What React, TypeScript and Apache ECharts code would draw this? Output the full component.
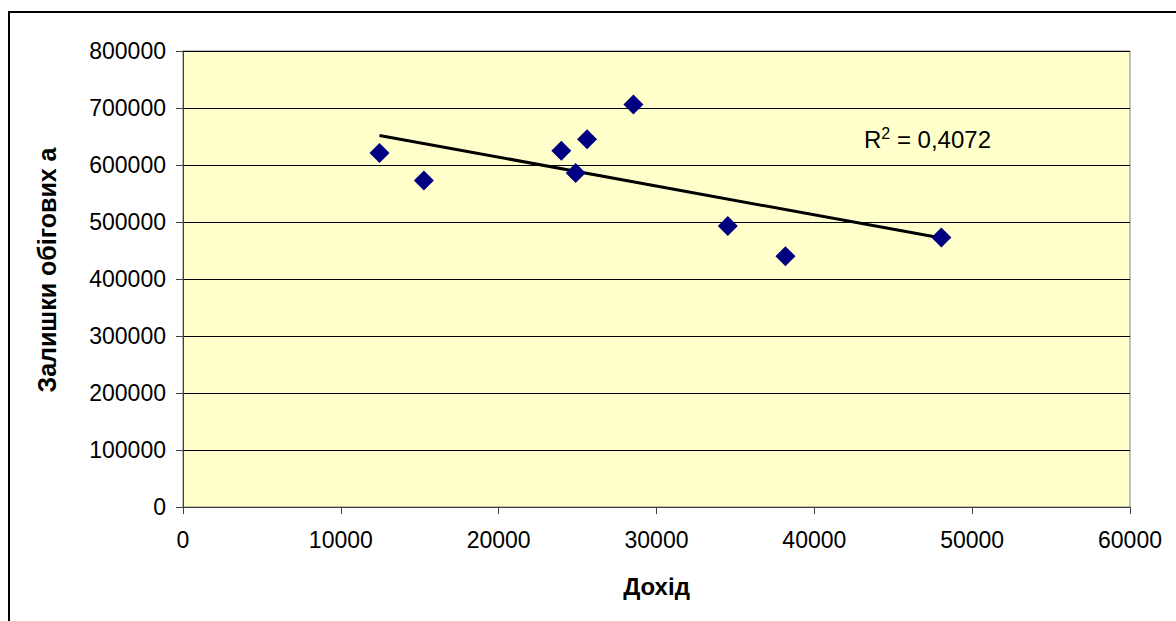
import React, { useEffect, useRef } from "react";
import * as echarts from "echarts";

const incomeValues = [12450, 15260, 23970, 24880, 25600, 28540, 34520, 38170, 48050];
const balanceValues = [621000, 573000, 625000, 586000, 645000, 706000, 493000, 440000, 473000];
const xAxisTitle = "Дохід";
const yAxisTitle = "Залишки обігових а";
const rSquaredText = "0,4072";

function linearFit(xs: number[], ys: number[]) {
  const n = xs.length;
  const mx = xs.reduce((a, b) => a + b, 0) / n;
  const my = ys.reduce((a, b) => a + b, 0) / n;
  let sxy = 0;
  let sxx = 0;
  for (let i = 0; i < n; i++) {
    sxy += (xs[i] - mx) * (ys[i] - my);
    sxx += (xs[i] - mx) * (xs[i] - mx);
  }
  const slope = sxy / sxx;
  const intercept = my - slope * mx;
  return (x: number) => intercept + slope * x;
}

export default function App() {
  const ref = useRef<HTMLDivElement>(null);
  useEffect(() => {
    if (!ref.current) return;
    const chart = echarts.init(ref.current, undefined, { renderer: "svg" });
    const fit = linearFit(incomeValues, balanceValues);
    const xMin = Math.min(...incomeValues);
    const xMax = Math.max(...incomeValues);
    const font = "'Liberation Sans', Arial, sans-serif";
    chart.setOption({
      animation: false,
      backgroundColor: "#ffffff",
      grid: {
        left: 183,
        top: 51,
        width: 947,
        height: 456,
        show: true,
        backgroundColor: "#FFFFCC",
        borderColor: "#808080",
        borderWidth: 1,
      },
      xAxis: {
        type: "value",
        min: 0,
        max: 60000,
        interval: 10000,
        name: xAxisTitle,
        nameLocation: "middle",
        nameGap: 67,
        nameTextStyle: { fontFamily: font, fontSize: 24, fontWeight: "bold", color: "#000" },
        axisLine: { show: true, lineStyle: { color: "#404040", width: 1 } },
        axisTick: { show: true, length: 7, inside: false, lineStyle: { color: "#404040" } },
        axisLabel: { fontFamily: font, fontSize: 23, color: "#000", margin: 21, formatter: (v: number) => String(v) },
        splitLine: { show: false },
      },
      yAxis: {
        type: "value",
        min: 0,
        max: 800000,
        interval: 100000,
        name: yAxisTitle,
        nameLocation: "middle",
        nameRotate: 90,
        nameGap: 124,
        nameTextStyle: { fontFamily: font, fontSize: 25, fontWeight: "bold", color: "#000", padding: [0, 0, 0, 18] },
        axisLine: { show: true, lineStyle: { color: "#404040", width: 1 } },
        axisTick: { show: true, length: 7, inside: false, lineStyle: { color: "#404040" } },
        axisLabel: { fontFamily: font, fontSize: 23, color: "#000", margin: 17, formatter: (v: number) => String(v) },
        splitLine: { show: true, lineStyle: { color: "#000000", width: 1 } },
      },
      series: [
        {
          type: "line",
          data: [
            [xMin, fit(xMin)],
            [xMax, fit(xMax)],
          ],
          symbol: "none",
          lineStyle: { color: "#000000", width: 3 },
          z: 2,
        },
        {
          type: "scatter",
          data: incomeValues.map((x, i) => [x, balanceValues[i]]),
          symbol: "diamond",
          symbolSize: [20, 20],
          itemStyle: { color: "#000080", opacity: 1 },
          z: 3,
        },
      ],
      graphic: [
        {
          type: "rect",
          shape: { x: 9, y: 12, width: 1300, height: 800 },
          style: { fill: "none", stroke: "#000", lineWidth: 2 },
          silent: true,
          z: 100,
        },
        {
          type: "text",
          x: 864,
          y: 139,
          style: {
            text: "R{sup|2} = " + rSquaredText,
            fontFamily: font,
            fontSize: 24,
            fill: "#000",
            verticalAlign: "middle",
            rich: {
              sup: { fontFamily: font, fontSize: 16, verticalAlign: "top", padding: [0, 0, 12, 0] },
            },
          },
          z: 10,
        },
      ],
    });
    return () => chart.dispose();
  }, []);
  return <div ref={ref} style={{ position: "fixed", left: 0, top: 0, width: 1176, height: 621 }} />;
}
